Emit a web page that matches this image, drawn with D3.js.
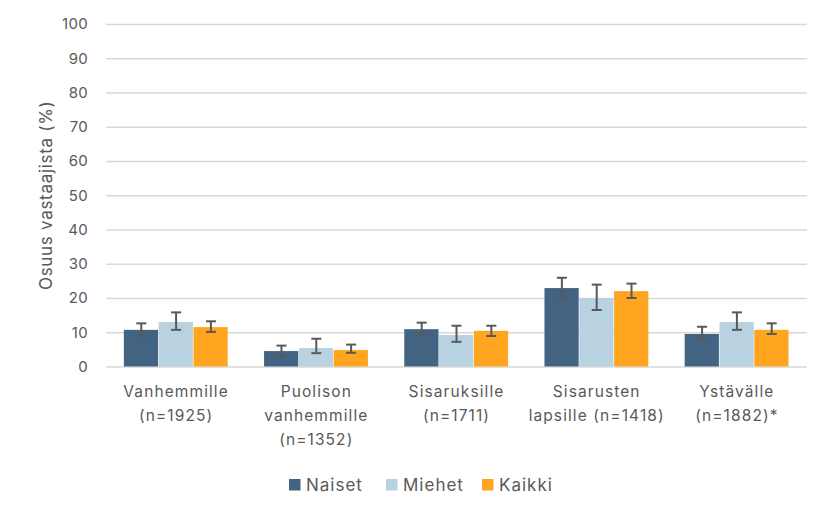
<!DOCTYPE html>
<html>
<head>
<meta charset="utf-8">
<script src="https://cdn.jsdelivr.net/npm/d3@7"></script>
<style>
  body { margin: 0; background: #fff; }
  svg text { font-family: "Inter", "Noto Sans", sans-serif; fill: #595959; }
</style>
</head>
<body>
<div id="chart"></div>
<script>
const categories = [
    ["Vanhemmille", "(n=1925)"],
    ["Puolison", "vanhemmille", "(n=1352)"],
    ["Sisaruksille", "(n=1711)"],
    ["Sisarusten", "lapsille (n=1418)"],
    ["Ystävälle", "(n=1882)*"]
];
const seriesNames = ["Naiset", "Miehet", "Kaikki"];
const naiset = [10.7, 4.5, 10.9, 22.9, 9.5];
const miehet = [13.0, 5.4, 9.2, 20.0, 13.0];
const kaikki = [11.5, 4.8, 10.4, 22.0, 10.7];
const naisetLow = [8.9, 3.1, 9.3, 20.4, 8.1];
const naisetHigh = [12.6, 6.1, 12.8, 25.9, 11.6];
const miehetLow = [10.7, 3.9, 7.2, 16.5, 10.7];
const miehetHigh = [15.8, 8.1, 11.9, 23.9, 15.8];
const kaikkiLow = [10.1, 4.0, 8.9, 20.0, 9.5];
const kaikkiHigh = [13.2, 6.4, 11.9, 24.2, 12.6];
const yTicks = [0, 10, 20, 30, 40, 50, 60, 70, 80, 90, 100];

const width = 831, height = 518;
const margin = { top: 24, right: 24, bottom: 151.5, left: 106 };
const innerW = width - margin.left - margin.right;
const innerH = height - margin.top - margin.bottom;

const svg = d3.select("#chart").append("svg")
    .attr("width", width)
    .attr("height", height);

const chart = svg.append("g")
    .attr("transform", `translate(${margin.left},${margin.top})`);

const x = d3.scaleBand()
    .domain(d3.range(categories.length))
    .range([0, innerW])
    .paddingInner(0.255)
    .paddingOuter(0.1275);

const xs = d3.scaleBand()
    .domain(seriesNames)
    .range([0, x.bandwidth()]);

const y = d3.scaleLinear()
    .domain([0, 100])
    .range([innerH, 0]);

const color = d3.scaleOrdinal()
    .domain(seriesNames)
    .range(["#426482", "#b9d2e1", "#ffa520"]);

// gridlines
chart.append("g")
    .call(d3.axisLeft(y).tickValues(yTicks).tickSize(-innerW).tickFormat(""))
    .call(g => g.select(".domain").remove())
    .selectAll("line")
    .attr("stroke", "#d9d9d9")
    .attr("stroke-width", 1.3);

// y labels
chart.append("g")
    .call(d3.axisLeft(y).tickValues(yTicks).tickSize(0).tickPadding(18))
    .call(g => g.select(".domain").remove())
    .selectAll("text")
    .style("font-size", "15px")
    .style("letter-spacing", "0.3px")
    .attr("fill", "#595959");

svg.append("text")
    .attr("transform", `translate(52,${margin.top + innerH / 2}) rotate(-90)`)
    .attr("text-anchor", "middle")
    .style("font-size", "17px")
    .style("letter-spacing", "0.7px")
    .text("Osuus vastaajista (%)");

const data = categories.map((c, i) => ({
    i,
    values: [
        { name: "Naiset", v: naiset[i], lo: naisetLow[i], hi: naisetHigh[i] },
        { name: "Miehet", v: miehet[i], lo: miehetLow[i], hi: miehetHigh[i] },
        { name: "Kaikki", v: kaikki[i], lo: kaikkiLow[i], hi: kaikkiHigh[i] }
    ]
}));

const groups = chart.selectAll(".grp")
    .data(data)
    .join("g")
    .attr("class", "grp")
    .attr("transform", d => `translate(${x(d.i)},0)`);

groups.selectAll("rect")
    .data(d => d.values)
    .join("rect")
    .attr("x", d => xs(d.name))
    .attr("width", xs.bandwidth() - 0.6)
    .attr("y", d => y(d.v))
    .attr("height", d => y(0) - y(d.v))
    .attr("fill", d => color(d.name));

const err = groups.selectAll(".err")
    .data(d => d.values)
    .join("g")
    .attr("class", "err")
    .attr("stroke", "#595959")
    .attr("stroke-width", 2);

err.append("line")
    .attr("x1", d => xs(d.name) + xs.bandwidth() / 2)
    .attr("x2", d => xs(d.name) + xs.bandwidth() / 2)
    .attr("y1", d => y(d.lo))
    .attr("y2", d => y(d.hi));
err.append("line")
    .attr("x1", d => xs(d.name) + xs.bandwidth() / 2 - 5)
    .attr("x2", d => xs(d.name) + xs.bandwidth() / 2 + 5)
    .attr("y1", d => y(d.lo))
    .attr("y2", d => y(d.lo));
err.append("line")
    .attr("x1", d => xs(d.name) + xs.bandwidth() / 2 - 5)
    .attr("x2", d => xs(d.name) + xs.bandwidth() / 2 + 5)
    .attr("y1", d => y(d.hi))
    .attr("y2", d => y(d.hi));

// x labels
const xl = chart.append("g")
    .selectAll("text")
    .data(categories)
    .join("text")
    .attr("x", (d, i) => x(i) + x.bandwidth() / 2)
    .attr("y", innerH + 30)
    .attr("text-anchor", "middle")
    .style("font-size", "15.5px")
    .style("letter-spacing", "1.1px");
xl.selectAll("tspan")
    .data(d => d)
    .join("tspan")
    .attr("x", function () { return this.parentNode.getAttribute("x"); })
    .attr("dy", (d, j) => j === 0 ? 0 : 24)
    .text(d => d);

// legend
const legendX = [289, 386, 482];
const legend = svg.append("g")
    .selectAll("g")
    .data(seriesNames)
    .join("g")
    .attr("transform", (d, i) => `translate(${legendX[i]},479)`);
legend.append("rect")
    .attr("width", 11.5)
    .attr("height", 11.5)
    .attr("fill", d => color(d));
legend.append("text")
    .attr("x", 17)
    .attr("y", 12)
    .style("font-size", "17px")
    .style("letter-spacing", "1px")
    .text(d => d);
</script>
</body>
</html>
